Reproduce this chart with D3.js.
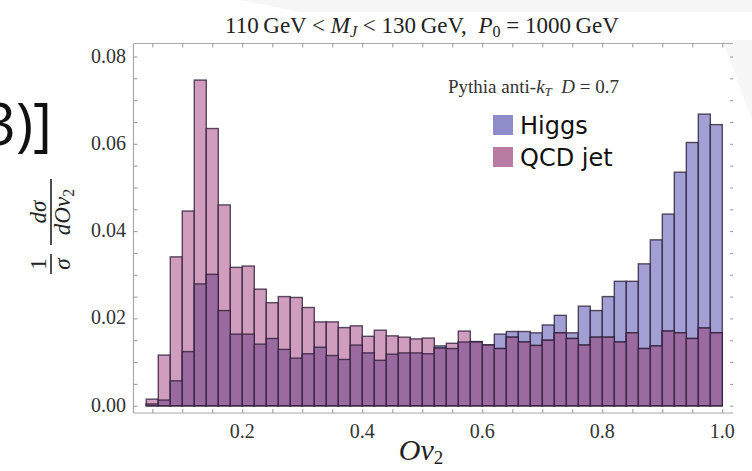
<!DOCTYPE html>
<html>
<head>
<meta charset="utf-8">
<script src="https://cdn.jsdelivr.net/npm/d3@7/dist/d3.min.js"></script>
<style>
  html, body { margin: 0; padding: 0; background: #ffffff; }
  svg { display: block; }
  .serif { font-family: "Liberation Serif", "DejaVu Serif", serif; }
</style>
</head>
<body>
<svg id="chart" width="752" height="471"></svg>
<script>
// Histogram bins (lower edges), width 0.02
const binLow = [0.04, 0.06, 0.08, 0.10, 0.12, 0.14, 0.16, 0.18, 0.20, 0.22,
                0.24, 0.26, 0.28, 0.30, 0.32, 0.34, 0.36, 0.38, 0.40, 0.42,
                0.44, 0.46, 0.48, 0.50, 0.52, 0.54, 0.56, 0.58, 0.60, 0.62,
                0.64, 0.66, 0.68, 0.70, 0.72, 0.74, 0.76, 0.78, 0.80, 0.82,
                0.84, 0.86, 0.88, 0.90, 0.92, 0.94, 0.96, 0.98];
const binWidth = 0.02;

// Normalised distributions (1/sigma dsigma/dOv2 per bin)
const higgs = [0.0004, 0.0013, 0.0057, 0.0124, 0.0279, 0.0301, 0.0218, 0.0164, 0.0164, 0.0141,
               0.0154, 0.0129, 0.0109, 0.0119, 0.0134, 0.0115, 0.0106, 0.0139, 0.0121, 0.0104,
               0.0118, 0.0121, 0.0121, 0.0119, 0.0137, 0.0131, 0.0146, 0.0146, 0.0139, 0.0164,
               0.0170, 0.0170, 0.0167, 0.0185, 0.0207, 0.0167, 0.0228, 0.0218, 0.0250, 0.0285,
               0.0285, 0.0325, 0.0380, 0.0439, 0.0535, 0.0603, 0.0668, 0.0644];
const qcd   = [0.0015, 0.0116, 0.0341, 0.0446, 0.0746, 0.0635, 0.0460, 0.0317, 0.0320, 0.0267,
               0.0236, 0.0250, 0.0248, 0.0225, 0.0192, 0.0192, 0.0179, 0.0183, 0.0159, 0.0173,
               0.0160, 0.0157, 0.0153, 0.0155, 0.0132, 0.0143, 0.0171, 0.0147, 0.0139, 0.0131,
               0.0157, 0.0146, 0.0138, 0.0150, 0.0167, 0.0154, 0.0139, 0.0157, 0.0157, 0.0146,
               0.0167, 0.0131, 0.0137, 0.0171, 0.0167, 0.0154, 0.0178, 0.0167];

const xTickLabels = ["0.2", "0.4", "0.6", "0.8", "1.0"];
const yTickLabels = ["0.00", "0.02", "0.04", "0.06", "0.08"];
const seriesNames = ["Higgs", "QCD jet"];

const svg = d3.select("#chart");

// Faint slide background shapes
svg.append("polygon").attr("points", "0,0 752,0 752,12 300,12 240,0").attr("fill", "#f6f6f6");
svg.append("polygon").attr("points", "722,40 752,40 752,120").attr("fill", "#f7f7f7");

const frame = { left: 133.5, right: 733, top: 43.5, bottom: 413 };

const x = d3.scaleLinear().domain([0.0187, 1.0178]).range([frame.left, frame.right]);
const y = d3.scaleLinear().domain([-0.00167, 0.08298]).range([frame.bottom, frame.top]);

const bins = binLow.map((lo, i) => ({ lo, hi: lo + binWidth, h: higgs[i], q: qcd[i] }));

const colHiggs = "#a19fd4";
const colQcd = "#d09dbe";
const colBoth = "#9b6aa0";
const edge = "rgba(45,30,55,0.78)";

const g = svg.append("g");

// Higgs bars
g.selectAll("rect.higgs").data(bins).join("rect")
  .attr("class", "higgs")
  .attr("x", d => x(d.lo)).attr("width", d => x(d.hi) - x(d.lo))
  .attr("y", d => y(d.h)).attr("height", d => y(0) - y(d.h))
  .attr("fill", colHiggs).attr("stroke", edge).attr("stroke-width", 1.4);

// QCD bars
g.selectAll("rect.qcd").data(bins).join("rect")
  .attr("class", "qcd")
  .attr("x", d => x(d.lo)).attr("width", d => x(d.hi) - x(d.lo))
  .attr("y", d => y(d.q)).attr("height", d => y(0) - y(d.q))
  .attr("fill", d => d.q >= d.h ? colQcd : "none")
  .attr("stroke", edge).attr("stroke-width", 1.4);

// Region where both distributions overlap
g.selectAll("rect.both").data(bins).join("rect")
  .attr("class", "both")
  .attr("x", d => x(d.lo)).attr("width", d => x(d.hi) - x(d.lo))
  .attr("y", d => y(Math.min(d.h, d.q))).attr("height", d => y(0) - y(Math.min(d.h, d.q)))
  .attr("fill", colBoth).attr("stroke", edge).attr("stroke-width", 1.4);

// Frame
const frameCol = "#a8a8a8";
svg.append("line").attr("x1", frame.left).attr("x2", frame.right).attr("y1", frame.bottom).attr("y2", frame.bottom)
  .attr("stroke", frameCol).attr("stroke-width", 1.2);
svg.append("line").attr("x1", frame.left).attr("x2", frame.right).attr("y1", frame.top).attr("y2", frame.top)
  .attr("stroke", frameCol).attr("stroke-width", 1.2);
svg.append("line").attr("x1", frame.left).attr("x2", frame.left).attr("y1", frame.top).attr("y2", frame.bottom)
  .attr("stroke", frameCol).attr("stroke-width", 1.2);

// Axis ticks
const xMinor = d3.range(1, 21).map(k => k * 0.05);
const yMinor = d3.range(0, 17).map(k => k * 0.005);
const tickCol = "#9a9a9a";

const bottomAxis = d3.axisTop(x).tickValues(xMinor).tickSize(4).tickFormat("");
const topAxis = d3.axisBottom(x).tickValues(xMinor).tickSize(4).tickFormat("");
const leftAxis = d3.axisRight(y).tickValues(yMinor).tickSize(4).tickFormat("");
const rightAxis = d3.axisLeft(y).tickValues(yMinor).tickSize(3).tickFormat("");

[[bottomAxis, `translate(0,${frame.bottom})`],
 [topAxis, `translate(0,${frame.top})`],
 [leftAxis, `translate(${frame.left},0)`],
 [rightAxis, `translate(${frame.right},0)`]].forEach(([ax, tr]) => {
  const a = svg.append("g").attr("transform", tr).call(ax);
  a.select(".domain").remove();
  a.selectAll("line").attr("stroke", tickCol);
});

// Tick labels
const xLab = svg.append("g").attr("class", "serif").attr("font-size", 20).attr("fill", "#333");
xLab.selectAll("text").data(xTickLabels).join("text")
  .attr("x", d => x(+d)).attr("y", 438).attr("text-anchor", "middle").text(d => d);

const yLab = svg.append("g").attr("class", "serif").attr("font-size", 20).attr("fill", "#333");
yLab.selectAll("text").data(yTickLabels).join("text")
  .attr("x", 126).attr("y", d => y(+d) + 6).attr("text-anchor", "end").text(d => d);

// Title
const title = svg.append("text").attr("class", "serif").attr("font-size", 23).attr("fill", "#222")
  .attr("x", 422).attr("y", 33).attr("text-anchor", "middle");
title.append("tspan").text("110\u2009GeV < ");
title.append("tspan").attr("font-style", "italic").text("M");
title.append("tspan").attr("font-style", "italic").attr("font-size", 16).attr("dy", 4).text("J");
title.append("tspan").attr("dy", -4).text(" < 130\u2009GeV,\u2002");
title.append("tspan").attr("font-style", "italic").text("P");
title.append("tspan").attr("font-size", 16).attr("dy", 4).text("0");
title.append("tspan").attr("dy", -4).text(" = 1000\u2009GeV");

// Generator annotation
const note = svg.append("text").attr("class", "serif").attr("font-size", 19).attr("fill", "#333")
  .attr("x", 448).attr("y", 93);
note.append("tspan").text("Pythia anti-");
note.append("tspan").attr("font-style", "italic").text("k");
note.append("tspan").attr("font-style", "italic").attr("font-size", 13).attr("dy", 3).text("T");
note.append("tspan").attr("dy", -3).text("\u2002");
note.append("tspan").attr("font-style", "italic").text("D");
note.append("tspan").text(" = 0.7");

// Legend
const legendCols = ["#8e8dc9", "#b87ba1"];
const leg = svg.append("g").attr("transform", "translate(493,115)");
leg.selectAll("rect").data(seriesNames).join("rect")
  .attr("x", 0).attr("y", (d, i) => i * 32).attr("width", 20).attr("height", 20)
  .attr("fill", (d, i) => legendCols[i]);
leg.selectAll("text").data(seriesNames).join("text")
  .attr("x", 27).attr("y", (d, i) => i * 32 + 19)
  .attr("font-family", "DejaVu Sans, sans-serif").attr("font-size", 24).attr("fill", "#111")
  .text(d => d);

// X-axis label
const xt = svg.append("text").attr("class", "serif").attr("font-size", 30).attr("fill", "#222")
  .attr("x", 421).attr("y", 460).attr("text-anchor", "middle");
xt.append("tspan").attr("font-style", "italic").text("Ov");
xt.append("tspan").attr("font-size", 19).attr("dy", 4).text("2");

// Y-axis label: 1/sigma dsigma/dOv2 as stacked fractions
const yl = svg.append("g").attr("class", "serif").attr("fill", "#222")
  .attr("transform", "translate(51,240) rotate(-90)");
function fraction(cx, num, den, len) {
  yl.append("line").attr("x1", cx - len / 2).attr("x2", cx + len / 2).attr("y1", 0).attr("y2", 0)
    .attr("stroke", "#222").attr("stroke-width", 1.6);
  const n = yl.append("text").attr("x", cx).attr("y", -5).attr("text-anchor", "middle").attr("font-size", 23);
  num(n);
  const d = yl.append("text").attr("x", cx).attr("y", 19).attr("text-anchor", "middle").attr("font-size", 23);
  den(d);
}
fraction(-24, t => t.text("1"), t => t.attr("font-style", "italic").text("\u03c3"), 20);
fraction(28, t => t.attr("font-style", "italic").text("d\u03c3"),
  t => {
    t.append("tspan").attr("font-style", "italic").text("dOv");
    t.append("tspan").attr("font-size", 16).attr("dy", 4).text("2");
  }, 66);

// Fragment of slide text at the left edge
svg.append("text").attr("x", 52).attr("y", 145).attr("text-anchor", "end")
  .attr("font-family", "Open Sans, DejaVu Sans, sans-serif").attr("font-size", 58).attr("fill", "#111")
  .text("3)]");
</script>
</body>
</html>
